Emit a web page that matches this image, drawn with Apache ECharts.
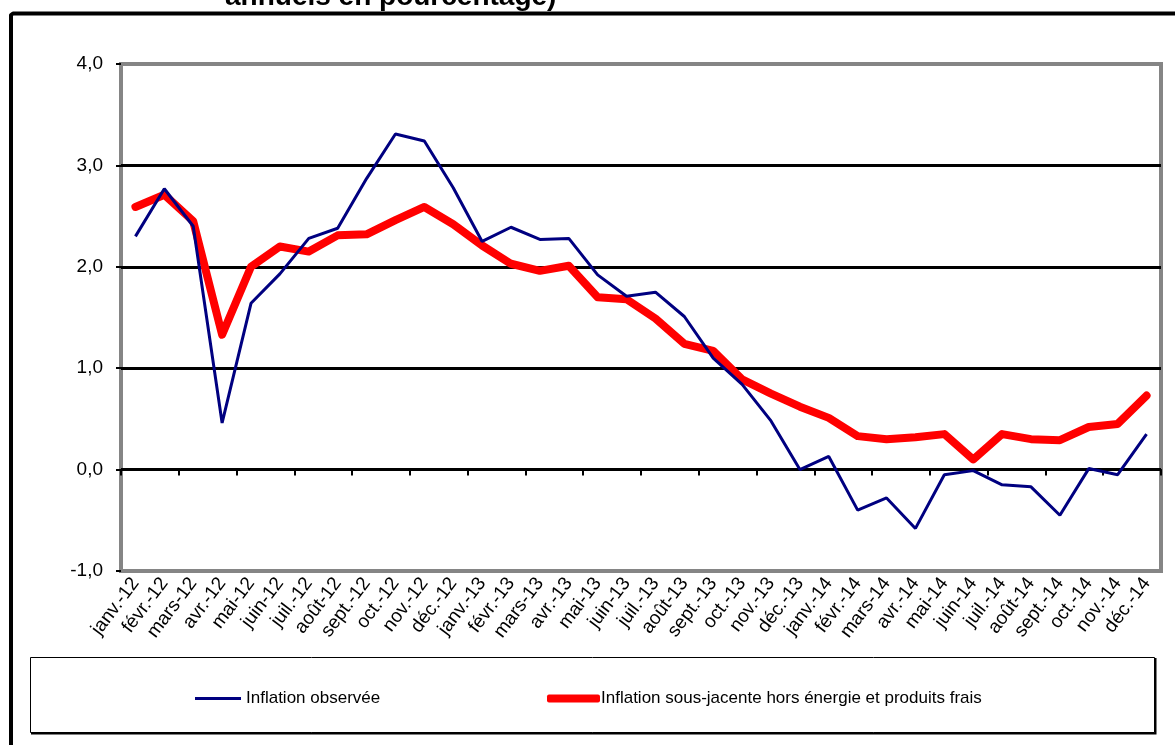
<!DOCTYPE html>
<html>
<head>
<meta charset="utf-8">
<script src="https://cdn.jsdelivr.net/npm/echarts@6/dist/echarts.min.js"></script>
<style>
  html, body { margin: 0; padding: 0; background: #ffffff; overflow: hidden; }
  #chart { width: 1175px; height: 745px; display: block; }
</style>
</head>
<body>
<div id="chart"></div>
<script>
// Monthly categories, January 2012 to December 2014
const months = [
  'janv.-12', 'févr.-12', 'mars-12', 'avr.-12', 'mai-12', 'juin-12',
  'juil.-12', 'août-12', 'sept.-12', 'oct.-12', 'nov.-12', 'déc.-12',
  'janv.-13', 'févr.-13', 'mars-13', 'avr.-13', 'mai-13', 'juin-13',
  'juil.-13', 'août-13', 'sept.-13', 'oct.-13', 'nov.-13', 'déc.-13',
  'janv.-14', 'févr.-14', 'mars-14', 'avr.-14', 'mai-14', 'juin-14',
  'juil.-14', 'août-14', 'sept.-14', 'oct.-14', 'nov.-14', 'déc.-14'
];

// Observed inflation (annual change, %)
const inflationObservee = [
  2.30, 2.77, 2.40, 0.46, 1.64, 1.93, 2.28, 2.38, 2.87, 3.31, 3.24, 2.78,
  2.25, 2.39, 2.27, 2.28, 1.92, 1.71, 1.75, 1.51, 1.10, 0.84, 0.48, 0.00,
  0.13, -0.40, -0.28, -0.58, -0.05, -0.01, -0.15, -0.17, -0.45, 0.01, -0.05, 0.35
];

// Underlying inflation excluding energy and fresh products (annual change, %)
const inflationSousJacente = [
  2.59, 2.71, 2.45, 1.33, 2.00, 2.20, 2.15, 2.31, 2.32, 2.46, 2.59, 2.42,
  2.21, 2.03, 1.96, 2.01, 1.70, 1.68, 1.49, 1.24, 1.17, 0.89, 0.75, 0.62,
  0.51, 0.33, 0.30, 0.32, 0.35, 0.10, 0.35, 0.30, 0.29, 0.42, 0.45, 0.73
];

const seriesNames = [
  'Inflation observée',
  'Inflation sous-jacente hors énergie et produits frais'
];

const titleText = 'annuels en pourcentage)';

const FONT = '"Liberation Sans", Arial, sans-serif';

const chart = echarts.init(document.getElementById('chart'), null, { renderer: 'canvas' });

const legendText = { fontFamily: FONT, fontSize: 17, color: '#000' };

chart.setOption({
  backgroundColor: '#ffffff',
  animation: false,
  title: {
    text: titleText,
    left: 220,
    top: -22,
    textStyle: { fontFamily: FONT, fontSize: 28, fontWeight: 'bold', color: '#000' }
  },
  graphic: [
    // outer frame (top and left edges)
    {
      type: 'polyline',
      shape: { points: [[11, 760], [11, 15], [13, 13.5], [1200, 13.5]] },
      style: { fill: 'none', stroke: '#000', lineWidth: 4, lineJoin: 'round' },
      z: 10
    },
    // legend box
    {
      type: 'rect',
      shape: { x: 30.5, y: 657.5, width: 1124, height: 75 },
      style: { fill: 'none', stroke: '#000', lineWidth: 1 },
      z: 10
    },
    {
      type: 'polyline',
      shape: { points: [[31, 733.5], [1155.5, 733.5], [1155.5, 658]] },
      style: { fill: 'none', stroke: '#000', lineWidth: 2 },
      z: 10
    }
  ],
  legend: [
    {
      data: [seriesNames[0]],
      icon: 'rect',
      left: 195,
      top: 690,
      padding: 0,
      itemWidth: 46,
      itemHeight: 3,
      textStyle: Object.assign({ padding: [0, 0, 0, 0] }, legendText)
    },
    {
      data: [seriesNames[1]],
      icon: 'roundRect',
      left: 547,
      top: 690,
      padding: 0,
      itemWidth: 53,
      itemHeight: 8,
      textStyle: Object.assign({ padding: [0, 0, 0, -4] }, legendText)
    }
  ],
  grid: {
    left: 121,
    right: 14,
    top: 64,
    bottom: 174,
    show: true,
    borderColor: '#858585',
    borderWidth: 4,
    backgroundColor: '#ffffff'
  },
  xAxis: [
    {
      // zero line with category ticks
      type: 'category',
      data: months,
      boundaryGap: true,
      axisLine: { show: true, onZero: true, lineStyle: { color: '#000', width: 2 } },
      axisTick: { show: true, length: 6, inside: false, lineStyle: { color: '#000', width: 2 } },
      axisLabel: { show: false },
      splitLine: { show: false },
      z: 3
    },
    {
      // month labels along the bottom edge
      type: 'category',
      data: months,
      position: 'bottom',
      boundaryGap: true,
      axisLine: { show: false, onZero: false },
      axisTick: { show: false },
      axisLabel: {
        show: true,
        interval: 0,
        rotate: 53,
        margin: 9,
        fontFamily: FONT,
        fontSize: 19,
        color: '#000'
      },
      splitLine: { show: false }
    }
  ],
  yAxis: {
    type: 'value',
    min: -1,
    max: 4,
    interval: 1,
    axisLine: { show: false },
    axisTick: { show: true, length: 5, lineStyle: { color: '#000', width: 2 } },
    axisLabel: {
      margin: 18,
      fontFamily: FONT,
      fontSize: 19,
      color: '#000',
      formatter: v => v.toFixed(1).replace('.', ',')
    },
    splitLine: {
      show: true,
      showMinLine: false,
      showMaxLine: false,
      lineStyle: { color: '#000', width: 3 }
    }
  },
  series: [
    {
      name: seriesNames[0],
      type: 'line',
      data: inflationObservee,
      xAxisIndex: 0,
      symbol: 'none',
      lineStyle: { color: '#000080', width: 3 },
      itemStyle: { color: '#000080' },
      z: 5
    },
    {
      name: seriesNames[1],
      type: 'line',
      data: inflationSousJacente,
      xAxisIndex: 0,
      symbol: 'none',
      lineStyle: { color: '#ff0000', width: 8, cap: 'round', join: 'round' },
      itemStyle: { color: '#ff0000' },
      z: 4
    }
  ]
});
</script>
</body>
</html>
